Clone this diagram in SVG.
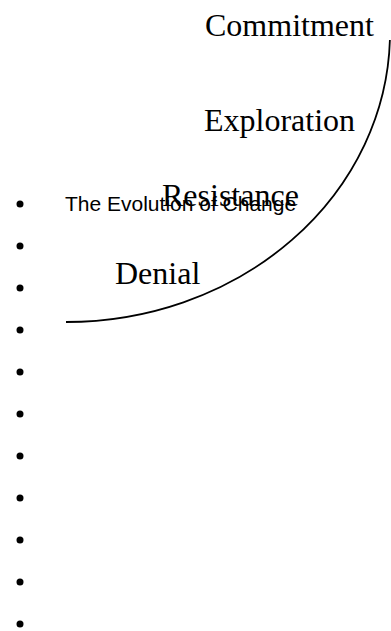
<svg xmlns="http://www.w3.org/2000/svg" width="391" height="631" viewBox="0 0 391 631">
<style>
.stage{font-family:"Liberation Serif","Times New Roman",serif;font-size:32px;fill:#000}
.title{font-family:"Liberation Sans",Arial,sans-serif;font-size:21px;fill:#000}
.bullet{fill:#000}
.arc{fill:none;stroke:#000;stroke-width:1.8}
</style>
<rect width="391" height="631" fill="#fff"/>
<g id="connectors">
<path class="arc" d="M66,322 A324,290 0 0 0 389.9,40"/>
</g>
<g id="bullets">
<circle class="bullet" cx="20" cy="204" r="3.5"/>
<circle class="bullet" cx="20" cy="246" r="3.5"/>
<circle class="bullet" cx="20" cy="288" r="3.5"/>
<circle class="bullet" cx="20" cy="330" r="3.5"/>
<circle class="bullet" cx="20" cy="372" r="3.5"/>
<circle class="bullet" cx="20" cy="414" r="3.5"/>
<circle class="bullet" cx="20" cy="456" r="3.5"/>
<circle class="bullet" cx="20" cy="498" r="3.5"/>
<circle class="bullet" cx="20" cy="540" r="3.5"/>
<circle class="bullet" cx="20" cy="582" r="3.5"/>
<circle class="bullet" cx="20" cy="624" r="3.5"/>
</g>
<g id="title"><text class="title" x="65" y="211">The Evolution of Change</text></g>
<g id="commitment"><text class="stage" x="205" y="36">Commitment</text></g>
<g id="exploration"><text class="stage" x="204" y="131">Exploration</text></g>
<g id="resistance"><text class="stage" x="162" y="206">Resistance</text></g>
<g id="denial"><text class="stage" x="115" y="284">Denial</text></g>
</svg>
